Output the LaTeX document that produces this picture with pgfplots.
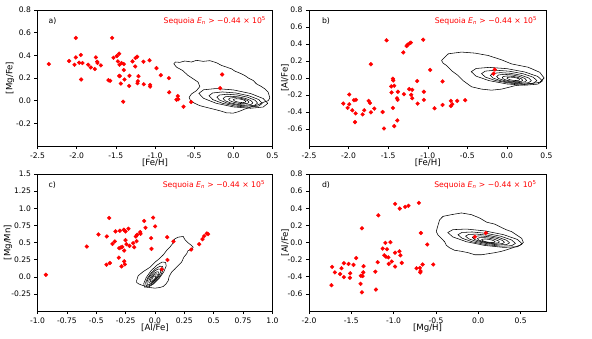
\documentclass[border=0pt]{standalone}
\usepackage{pgfplots}
\pgfplotsset{compat=1.18}
\usepackage{fontspec}
\setmainfont{DejaVu Sans}
\definecolor{seqred}{RGB}{255,0,0}

\pgfplotsset{
  panel/.style={
    scale only axis, width=235pt, height=136pt,
    anchor=south west,
    axis line style={line width=0.6pt},
    tick align=outside, xtick pos=bottom, ytick pos=left,
    major tick length=3pt,
    tick style={black, line width=0.5pt},
    ticklabel style={font=\fontsize{7.6}{8}\selectfont},
    label style={font=\fontsize{8.6}{9}\selectfont},
  },
  contour/.style={black, line width=0.55pt, mark=none},
  pts/.style={only marks, mark=*, mark size=1.9pt, color=seqred, mark options={draw=seqred, fill=seqred}},
}
\tikzset{tag/.style={font=\fontsize{7.7}{9}\selectfont}}
\newcommand{\seq}{\textcolor{seqred}{Sequoia \textit{E}\textsubscript{\textit{n}} > −0.44 × 10\textsuperscript{5}}}

\begin{document}
\begin{tikzpicture}[x=1pt,y=1pt]
\useasboundingbox (0,0) rectangle (592,338);

% a) [Mg/Fe] vs [Fe/H]
\begin{axis}[panel, at={(37.5pt,192pt)},
  xmin=-2.5, xmax=0.5, ymin=-0.4, ymax=0.8,
  xtick={-2.5,-2,-1.5,-1,-0.5,0,0.5}, xticklabels={-2.5,-2.0,-1.5,-1.0,-0.5,0.0,0.5},
  ytick={-0.2,0,0.2,0.4,0.6,0.8}, yticklabels={-0.2,0.0,0.2,0.4,0.6,0.8},
  xlabel={[Fe/H]}, ylabel={[Mg/Fe]},
  xlabel style={at={(axis description cs:0.5,-0.125)}, anchor=center},
  ylabel style={at={(axis description cs:-0.117,0.5)}, anchor=center},
]
\addplot[contour] coordinates {(-0.760,0.326)(-0.738,0.341)(-0.683,0.338)(-0.619,0.350)(-0.534,0.341)(-0.470,0.356)(-0.385,0.347)(-0.300,0.353)(-0.215,0.335)(-0.151,0.311)(-0.087,0.296)(-0.023,0.281)(0.019,0.261)(0.083,0.243)(0.147,0.222)(0.189,0.201)(0.253,0.178)(0.296,0.148)(0.360,0.124)(0.402,0.104)(0.445,0.074)(0.466,0.024)(0.445,0.000)(0.381,-0.015)(0.317,-0.036)(0.232,-0.053)(0.147,-0.074)(0.062,-0.098)(-0.002,-0.110)(-0.087,-0.107)(-0.172,-0.089)(-0.257,-0.074)(-0.343,-0.059)(-0.428,-0.044)(-0.491,-0.024)(-0.547,0.000)(-0.564,0.030)(-0.534,0.059)(-0.470,0.089)(-0.428,0.124)(-0.449,0.163)(-0.513,0.193)(-0.577,0.222)(-0.649,0.267)(-0.726,0.296)(-0.760,0.326)};
\addplot[contour] coordinates {(0.44,-0.024)(0.381,0.019)(0.22,0.063)(0,0.095)(-0.22,0.107)(-0.381,0.096)(-0.44,0.064)(-0.381,0.021)(-0.22,-0.023)(0,-0.055)(0.22,-0.067)(0.381,-0.056)(0.44,-0.024)};
\addplot[contour] coordinates {(0.37,-0.024)(0.324,0.010)(0.20,0.043)(0.03,0.068)(-0.14,0.077)(-0.264,0.068)(-0.31,0.044)(-0.264,0.010)(-0.14,-0.023)(0.03,-0.048)(0.20,-0.057)(0.324,-0.048)(0.37,-0.024)};
\addplot[contour] coordinates {(0.31,-0.021)(0.275,0.005)(0.18,0.031)(0.05,0.050)(-0.08,0.057)(-0.175,0.050)(-0.21,0.031)(-0.175,0.005)(-0.08,-0.021)(0.05,-0.040)(0.18,-0.047)(0.275,-0.040)(0.31,-0.021)};
\addplot[contour] coordinates {(0.25,-0.019)(0.225,0.0005)(0.155,0.020)(0.06,0.034)(-0.035,0.039)(-0.105,0.034)(-0.13,0.019)(-0.105,-0.0005)(-0.035,-0.020)(0.06,-0.034)(0.155,-0.039)(0.225,-0.034)(0.25,-0.019)};
\addplot[contour] coordinates {(0.20,-0.013)(0.183,0.001)(0.135,0.014)(0.07,0.024)(0.005,0.027)(-0.043,0.023)(-0.06,0.013)(-0.043,-0.001)(0.005,-0.014)(0.07,-0.024)(0.135,-0.027)(0.183,-0.023)(0.20,-0.013)};
\addplot[contour] coordinates {(0.16,-0.008)(0.149,0.001)(0.12,0.009)(0.08,0.015)(0.04,0.017)(0.011,0.014)(0.0,0.008)(0.011,-0.001)(0.04,-0.009)(0.08,-0.015)(0.12,-0.017)(0.149,-0.014)(0.16,-0.008)};
\addplot[pts] coordinates {(-2.355,0.323)(-2.096,0.350)(-2.011,0.554)(-2.011,0.382)(-2.028,0.317)(-1.968,0.335)(-1.947,0.403)(-1.926,0.332)(-1.943,0.187)(-1.853,0.317)(-1.819,0.293)(-1.768,0.279)(-1.755,0.382)(-1.738,0.344)(-1.734,0.332)(-1.691,0.311)(-1.594,0.181)(-1.572,0.175)(-1.547,0.554)(-1.530,0.379)(-1.487,0.394)(-1.457,0.415)(-1.474,0.347)(-1.453,0.317)(-1.428,0.332)(-1.457,0.219)(-1.449,0.216)(-1.436,0.151)(-1.398,0.323)(-1.398,0.270)(-1.389,0.187)(-1.406,-0.009)(-1.326,0.219)(-1.330,0.130)(-1.287,0.347)(-1.253,0.302)(-1.249,0.376)(-1.228,0.388)(-1.211,0.216)(-1.219,0.172)(-1.223,0.154)(-1.143,0.145)(-1.147,0.344)(-1.070,0.356)(-1.062,0.139)(-1.062,0.124)(-0.981,0.287)(-0.926,0.225)(-0.823,0.199)(-0.819,0.074)(-0.709,0.041)(-0.704,0.012)(-0.726,0.009)(-0.538,-0.012)(-0.636,-0.053)(-0.168,0.110)(-0.143,0.231)};
\node[tag, anchor=west] at (rel axis cs:0.032,0.921) {a)};
\node[tag, anchor=east] at (rel axis cs:0.987,0.921) {\seq};
\end{axis}

% b) [Al/Fe] vs [Fe/H]
\begin{axis}[panel, at={(309pt,192pt)}, width=237.5pt,
  xmin=-2.5, xmax=0.5, ymin=-0.8, ymax=0.8,
  xtick={-2.5,-2,-1.5,-1,-0.5,0,0.5}, xticklabels={-2.5,-2.0,-1.5,-1.0,-0.5,0.0,0.5},
  ytick={-0.6,-0.4,-0.2,0,0.2,0.4,0.6,0.8}, yticklabels={-0.6,-0.4,-0.2,0.0,0.2,0.4,0.6,0.8},
  xlabel={[Fe/H]}, ylabel={[Al/Fe]},
  xlabel style={at={(axis description cs:0.5,-0.125)}, anchor=center},
  ylabel style={at={(axis description cs:-0.101,0.5)}, anchor=center},
]
\addplot[contour] coordinates {(-0.826,0.206)(-0.740,0.285)(-0.573,0.305)(-0.405,0.293)(-0.237,0.265)(-0.068,0.214)(0.058,0.166)(0.268,0.127)(0.415,0.067)(0.470,0.000)(0.415,-0.051)(0.268,-0.071)(0.100,-0.091)(-0.068,-0.131)(-0.195,-0.143)(-0.320,-0.131)(-0.447,-0.103)(-0.552,-0.032)(-0.615,0.028)(-0.700,0.087)(-0.763,0.147)(-0.805,0.174)(-0.826,0.206)};
\addplot[contour] coordinates {(0.45,-0.034)(0.39,0.018)(0.225,0.071)(0,0.11)(-0.225,0.125)(-0.39,0.112)(-0.45,0.074)(-0.39,0.022)(-0.225,-0.031)(0,-0.07)(0.225,-0.085)(0.39,-0.072)(0.45,-0.034)};
\addplot[contour] coordinates {(0.38,-0.032)(0.333,0.009)(0.205,0.050)(0.03,0.08)(-0.145,0.092)(-0.273,0.081)(-0.32,0.052)(-0.273,0.011)(-0.145,-0.030)(0.03,-0.06)(0.205,-0.072)(0.333,-0.061)(0.38,-0.032)};
\addplot[contour] coordinates {(0.31,-0.031)(0.275,0.0005)(0.18,0.032)(0.05,0.055)(-0.08,0.063)(-0.175,0.055)(-0.21,0.031)(-0.175,-0.0005)(-0.08,-0.032)(0.05,-0.055)(0.18,-0.063)(0.275,-0.055)(0.31,-0.031)};
\addplot[contour] coordinates {(0.25,-0.028)(0.225,-0.004)(0.155,0.020)(0.06,0.037)(-0.035,0.043)(-0.105,0.036)(-0.13,0.018)(-0.105,-0.006)(-0.035,-0.030)(0.06,-0.047)(0.155,-0.053)(0.225,-0.046)(0.25,-0.028)};
\addplot[contour] coordinates {(0.20,-0.026)(0.183,-0.009)(0.135,0.008)(0.07,0.02)(0.005,0.024)(-0.043,0.019)(-0.06,0.006)(-0.043,-0.012)(0.005,-0.028)(0.07,-0.04)(0.135,-0.044)(0.183,-0.039)(0.20,-0.026)};
\addplot[contour] coordinates {(0.16,-0.020)(0.149,-0.009)(0.12,0.001)(0.08,0.008)(0.04,0.010)(0.011,0.007)(0.0,-0.0004)(0.011,-0.011)(0.04,-0.021)(0.08,-0.028)(0.12,-0.030)(0.149,-0.027)(0.16,-0.020)};
\addplot[pts] coordinates {(-2.067,-0.301)(-2.012,-0.352)(-1.991,-0.309)(-1.991,-0.194)(-1.953,-0.380)(-1.932,-0.261)(-1.907,-0.257)(-1.919,-0.519)(-1.911,-0.416)(-1.823,-0.428)(-1.802,-0.380)(-1.747,-0.269)(-1.730,-0.293)(-1.718,0.162)(-1.718,-0.404)(-1.675,-0.360)(-1.570,-0.400)(-1.553,-0.594)(-1.520,0.444)(-1.461,-0.099)(-1.457,-0.170)(-1.440,-0.008)(-1.436,-0.028)(-1.423,-0.091)(-1.440,-0.352)(-1.423,-0.566)(-1.385,-0.499)(-1.377,-0.162)(-1.381,-0.257)(-1.389,-0.238)(-1.309,0.301)(-1.301,-0.190)(-1.267,0.376)(-1.254,0.392)(-1.229,0.408)(-1.213,0.416)(-1.234,-0.131)(-1.209,-0.198)(-1.196,-0.139)(-1.196,-0.238)(-1.133,-0.036)(-1.128,-0.301)(-1.057,0.451)(-1.049,-0.162)(-1.049,-0.257)(-0.969,0.095)(-0.914,-0.356)(-0.813,-0.040)(-0.813,-0.317)(-0.708,-0.269)(-0.708,-0.329)(-0.691,-0.309)(-0.628,-0.269)(-0.527,-0.261)(-0.153,0.099)(-0.169,0.051)};
\node[tag, anchor=west] at (rel axis cs:0.04,0.921) {b)};
\node[tag, anchor=east] at (rel axis cs:0.975,0.921) {\seq};
\end{axis}

% c) [Mg/Mn] vs [Al/Fe]
\begin{axis}[panel, at={(37.5pt,27pt)}, height=137pt,
  xmin=-1, xmax=1, ymin=-0.5, ymax=1.5,
  xtick={-1,-0.75,-0.5,-0.25,0,0.25,0.5,0.75,1}, xticklabels={-1.0,-0.75,-0.5,-0.25,0.0,0.25,0.5,0.75,1.0},
  ytick={-0.25,0,0.25,0.5,0.75,1,1.25,1.5}, yticklabels={-0.25,0.0,0.25,0.5,0.75,1.0,1.25,1.5},
  xlabel={[Al/Fe]}, ylabel={[Mg/Mn]},
  xlabel style={at={(axis description cs:0.5,-0.125)}, anchor=center},
  ylabel style={at={(axis description cs:-0.125,0.5)}, anchor=center},
]
\addplot[contour] coordinates {(-0.157,-0.059)(-0.143,0.015)(-0.101,0.074)(-0.044,0.137)(-0.001,0.211)(0.041,0.270)(0.070,0.319)(0.098,0.382)(0.126,0.431)(0.155,0.495)(0.169,0.554)(0.197,0.578)(0.240,0.588)(0.254,0.544)(0.282,0.495)(0.311,0.456)(0.325,0.431)(0.313,0.397)(0.282,0.382)(0.268,0.333)(0.245,0.284)(0.226,0.211)(0.197,0.162)(0.169,0.113)(0.140,0.064)(0.121,0.005)(0.112,-0.059)(0.092,-0.108)(0.070,-0.142)(0.041,-0.157)(-0.001,-0.167)(-0.044,-0.157)(-0.095,-0.132)(-0.135,-0.108)(-0.157,-0.083)(-0.157,-0.059)};
\addplot[contour] coordinates {(0.09,0.21)(0.0955,0.159)(0.075,0.072)(0.035,-0.025)(-0.0147,-0.108)(-0.0605,-0.154)(-0.09,-0.15)(-0.0955,-0.099)(-0.075,-0.012)(-0.035,0.085)(0.0147,0.168)(0.0605,0.214)(0.09,0.21)};
\addplot[contour] coordinates {(0.065,0.15)(0.070,0.109)(0.054,0.041)(0.023,-0.035)(-0.016,-0.099)(-0.052,-0.134)(-0.075,-0.13)(-0.080,-0.089)(-0.064,-0.021)(-0.033,0.055)(0.006,0.119)(0.042,0.154)(0.065,0.15)};
\addplot[contour] coordinates {(0.045,0.11)(0.049,0.077)(0.037,0.024)(0.012,-0.036)(-0.019,-0.086)(-0.047,-0.113)(-0.065,-0.11)(-0.069,-0.077)(-0.057,-0.024)(-0.032,0.036)(-0.002,0.086)(0.027,0.113)(0.045,0.11)};
\addplot[contour] coordinates {(0.03,0.07)(0.033,0.045)(0.025,0.006)(0.007,-0.038)(-0.015,-0.074)(-0.036,-0.093)(-0.05,-0.09)(-0.053,-0.065)(-0.045,-0.026)(-0.027,0.018)(-0.005,0.054)(0.016,0.073)(0.03,0.07)};
\addplot[contour] coordinates {(0.018,0.041)(0.020,0.024)(0.014,-0.004)(0.002,-0.035)(-0.014,-0.060)(-0.028,-0.074)(-0.038,-0.071)(-0.040,-0.054)(-0.034,-0.026)(-0.022,0.005)(-0.006,0.030)(0.008,0.044)(0.018,0.041)};
\addplot[contour] coordinates {(0.006,0.012)(0.007,0.002)(0.004,-0.014)(-0.003,-0.032)(-0.012,-0.046)(-0.020,-0.054)(-0.026,-0.052)(-0.027,-0.042)(-0.024,-0.026)(-0.017,-0.008)(-0.008,0.006)(0.000,0.014)(0.006,0.012)};
\addplot[pts] coordinates {(-0.929,0.029)(-0.580,0.441)(-0.481,0.618)(-0.410,0.588)(-0.390,0.858)(-0.384,0.201)(-0.413,0.176)(-0.362,0.480)(-0.342,0.515)(-0.336,0.662)(-0.308,0.279)(-0.299,0.672)(-0.305,0.417)(-0.291,0.426)(-0.279,0.436)(-0.285,0.152)(-0.265,0.686)(-0.262,0.225)(-0.257,0.181)(-0.251,0.662)(-0.251,0.534)(-0.262,0.382)(-0.243,0.475)(-0.226,0.701)(-0.217,0.451)(-0.186,0.490)(-0.177,0.431)(-0.163,0.588)(-0.157,0.520)(-0.152,0.613)(-0.126,0.652)(-0.123,0.627)(-0.092,0.814)(-0.081,0.716)(-0.033,0.564)(-0.030,0.407)(-0.016,0.863)(0.001,0.735)(0.104,0.578)(0.106,0.245)(0.157,0.515)(0.058,0.108)(0.308,0.397)(0.376,0.475)(0.404,0.549)(0.418,0.593)(0.441,0.632)(0.452,0.623)};
\node[tag, anchor=west] at (rel axis cs:0.032,0.921) {c)};
\node[tag, anchor=east] at (rel axis cs:0.983,0.921) {\seq};
\end{axis}

% d) [Al/Fe] vs [Mg/H]
\begin{axis}[panel, at={(309pt,27pt)}, width=237pt, height=137pt,
  xmin=-2, xmax=0.8, ymin=-0.8, ymax=0.8,
  xtick={-2,-1.5,-1,-0.5,0,0.5}, xticklabels={-2.0,-1.5,-1.0,-0.5,0.0,0.5},
  ytick={-0.6,-0.4,-0.2,0,0.2,0.4,0.6,0.8}, yticklabels={-0.6,-0.4,-0.2,0.0,0.2,0.4,0.6,0.8},
  xlabel={[Mg/H]}, ylabel={[Al/Fe]},
  xlabel style={at={(axis description cs:0.5,-0.125)}, anchor=center},
  ylabel style={at={(axis description cs:-0.101,0.5)}, anchor=center},
]
\addplot[contour] coordinates {(-0.457,0.265)(-0.417,0.305)(-0.318,0.325)(-0.199,0.345)(-0.081,0.325)(0.018,0.285)(0.097,0.238)(0.196,0.214)(0.275,0.174)(0.335,0.147)(0.394,0.127)(0.454,0.087)(0.513,0.048)(0.533,0.000)(0.493,-0.032)(0.414,-0.059)(0.355,-0.079)(0.275,-0.103)(0.196,-0.119)(0.117,-0.131)(0.038,-0.143)(-0.041,-0.143)(-0.120,-0.119)(-0.199,-0.103)(-0.279,-0.091)(-0.338,-0.063)(-0.378,-0.032)(-0.397,0.008)(-0.437,0.048)(-0.476,0.087)(-0.496,0.127)(-0.484,0.174)(-0.468,0.226)(-0.457,0.265)};
\addplot[contour] coordinates {(0.52,-0.016)(0.461,0.036)(0.30,0.091)(0.08,0.135)(-0.14,0.157)(-0.301,0.150)(-0.36,0.116)(-0.301,0.065)(-0.14,0.009)(0.08,-0.035)(0.30,-0.057)(0.461,-0.050)(0.52,-0.016)};
\addplot[contour] coordinates {(0.44,-0.011)(0.394,0.029)(0.27,0.072)(0.10,0.106)(-0.07,0.123)(-0.194,0.117)(-0.24,0.091)(-0.194,0.051)(-0.07,0.008)(0.10,-0.026)(0.27,-0.043)(0.394,-0.037)(0.44,-0.011)};
\addplot[contour] coordinates {(0.37,-0.004)(0.335,0.026)(0.24,0.059)(0.11,0.085)(-0.02,0.098)(-0.115,0.094)(-0.15,0.074)(-0.115,0.044)(-0.02,0.011)(0.11,-0.015)(0.24,-0.028)(0.335,-0.024)(0.37,-0.004)};
\addplot[contour] coordinates {(0.31,0.0015)(0.285,0.024)(0.215,0.049)(0.12,0.068)(0.025,0.077)(-0.045,0.074)(-0.07,0.059)(-0.045,0.036)(0.025,0.011)(0.12,-0.008)(0.215,-0.017)(0.285,-0.014)(0.31,0.0015)};
\addplot[contour] coordinates {(0.25,0.0055)(0.233,0.022)(0.185,0.039)(0.12,0.052)(0.055,0.058)(0.007,0.055)(-0.01,0.045)(0.007,0.028)(0.055,0.011)(0.12,-0.002)(0.185,-0.008)(0.233,-0.005)(0.25,0.0055)};
\addplot[contour] coordinates {(0.20,0.008)(0.189,0.018)(0.16,0.029)(0.12,0.037)(0.08,0.041)(0.051,0.039)(0.04,0.032)(0.051,0.022)(0.08,0.011)(0.12,0.003)(0.16,-0.001)(0.189,0.001)(0.20,0.008)};
\addplot[pts] coordinates {(-1.735,-0.499)(-1.727,-0.285)(-1.695,-0.349)(-1.632,-0.368)(-1.616,-0.301)(-1.588,-0.242)(-1.588,-0.404)(-1.533,-0.250)(-1.517,-0.412)(-1.513,-0.360)(-1.474,-0.261)(-1.442,-0.182)(-1.391,-0.483)(-1.387,-0.388)(-1.375,0.166)(-1.375,-0.582)(-1.367,-0.392)(-1.359,-0.349)(-1.355,-0.277)(-1.216,-0.341)(-1.209,-0.550)(-1.189,-0.230)(-1.181,0.317)(-1.129,-0.071)(-1.098,-0.004)(-1.078,-0.079)(-1.110,-0.150)(-1.090,-0.166)(-1.062,-0.174)(-1.058,-0.250)(-1.038,0.004)(-1.023,-0.222)(-0.983,0.451)(-0.983,-0.119)(-0.983,-0.281)(-0.932,-0.103)(-0.928,0.396)(-0.920,-0.150)(-0.904,-0.238)(-0.864,0.416)(-0.825,0.428)(-0.702,0.463)(-0.730,-0.301)(-0.690,-0.297)(-0.682,-0.333)(-0.686,-0.349)(-0.678,0.111)(-0.658,-0.257)(-0.603,-0.024)(-0.532,-0.257)(0.089,0.111)(-0.041,0.067)};
\node[tag, anchor=west] at (rel axis cs:0.04,0.921) {d)};
\node[tag, anchor=east] at (rel axis cs:0.975,0.921) {\seq};
\end{axis}
\end{tikzpicture}
\end{document}
